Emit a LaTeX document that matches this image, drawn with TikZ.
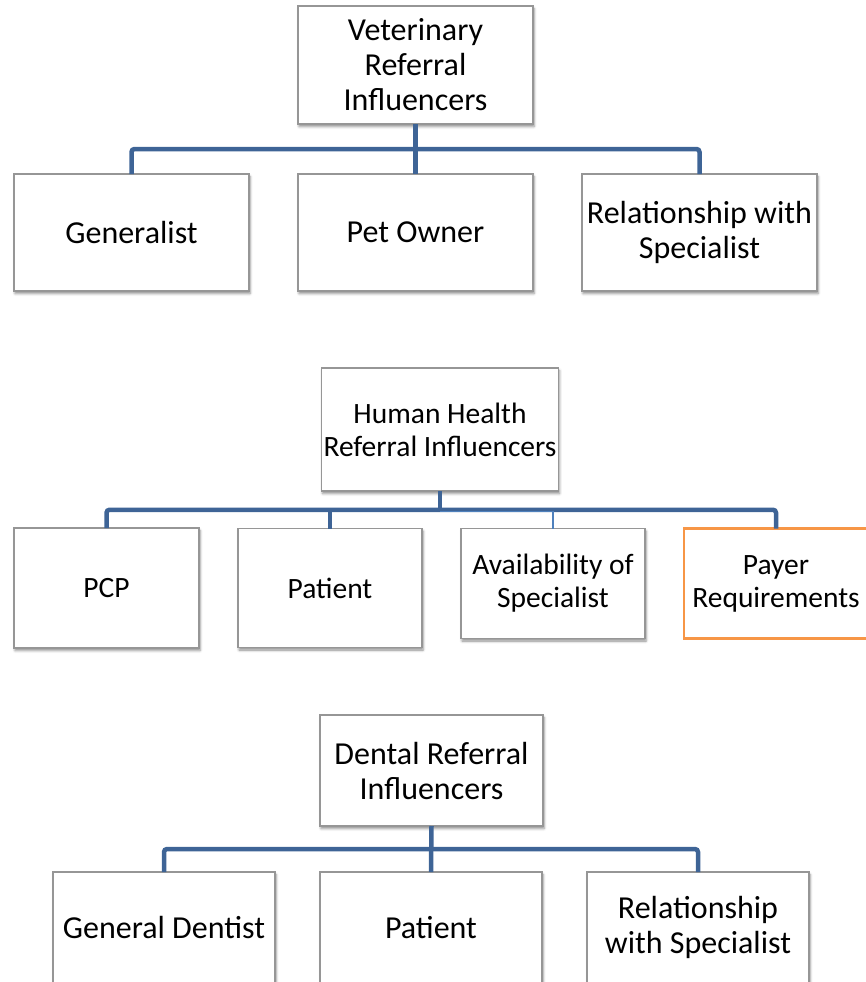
\documentclass[tikz,border=0pt]{standalone}
\usepackage{fontspec}
\setmainfont{Carlito}
\usetikzlibrary{positioning,calc,shadows,shadows.blur}

\definecolor{barblue}{RGB}{62,100,150}
\definecolor{thinblue}{RGB}{79,129,189}
\definecolor{boxgray}{RGB}{150,150,150}
\definecolor{payorange}{RGB}{247,150,70}

\begin{document}
\begin{tikzpicture}[x=1pt,y=-1pt,align=center,
  plain/.style={draw=boxgray,line width=1.3pt,fill=white,inner sep=2pt,outer sep=0pt},
  box/.style={plain,blur shadow={shadow xshift=1pt,shadow yshift=-2.5pt,shadow blur radius=2.5pt,shadow opacity=45}},
  big/.style={font=\fontsize{32}{35}\selectfont},
  small/.style={font=\fontsize{29.5}{33}\selectfont},
  bar/.style={draw=barblue,line width=4.5pt,rounded corners=3pt},
  thinbar/.style={draw=thinblue,line width=1.3pt}]
\useasboundingbox (0,0) rectangle (865,982);

%% Veterinary
\node (Vet)  [box,big,minimum width=235pt,minimum height=118pt] at (415.5,65)
             {Veterinary\\Referral\\Influencers};
\node (VGen) [box,big,minimum width=235pt,minimum height=117pt] at (131.5,232.5)
             {Generalist};
\node (VOwn) [box,big,minimum width=235pt,minimum height=117pt,right=49pt of VGen]
             {Pet Owner};
\node (VRel) [box,big,minimum width=235pt,minimum height=117pt,right=49pt of VOwn]
             {Relationship with\\Specialist};
\coordinate (VBar) at ($(Vet.south)!0.5!(Vet.south |- VOwn.north)$);
\draw[bar] (VGen.north) |- (VBar) -| (VRel.north);
\draw[bar] (Vet.south) -- (VOwn.north);

%% Human health
\node (Hum)  [box,small,minimum width=236pt,minimum height=123pt] at (440,429.5)
             {Human Health\\Referral Influencers};
\node (HPcp) [box,small,minimum width=185pt,minimum height=120pt] at (106.5,588)
             {PCP};
\node (HPat) [box,small,minimum width=184pt,minimum height=119pt,right=39pt of HPcp]
             {Patient};
\node (HAva) [box,small,minimum width=184pt,minimum height=110pt] at (553,583.5)
             {Availability of\\Specialist};
\node (HPay) [plain,small,draw=payorange,line width=2.5pt,minimum width=184pt,minimum height=110pt] at (776,583.5)
             {Payer\\Requirements};
\coordinate (HBar) at ($(Hum.south)!0.5!(Hum.south |- HPat.north)$);
\draw[bar] (HPcp.north) |- (HBar) -| (HPay.north);
\draw[bar] (Hum.south) -- (HBar);
\draw[bar] (HPat.north) -- (HPat.north |- HBar);
\draw[thinbar] ([yshift=-1.5pt]HBar) -| (HAva.north);

%% Dental
\node (Den)  [box,big,minimum width=223pt,minimum height=111pt] at (431.5,770.5)
             {Dental Referral\\Influencers};
\node (DGen) [box,big,minimum width=222pt,minimum height=111pt] at (164,927.5)
             {General Dentist};
\node (DPat) [box,big,minimum width=222pt,minimum height=111pt,right=45pt of DGen]
             {Patient};
\node (DRel) [box,big,minimum width=222pt,minimum height=111pt,right=45pt of DPat]
             {Relationship\\with Specialist};
\coordinate (DBar) at ($(Den.south)!0.5!(Den.south |- DPat.north)$);
\draw[bar] (DGen.north) |- (DBar) -| (DRel.north);
\draw[bar] (Den.south) -- (DPat.north);
\end{tikzpicture}
\end{document}
